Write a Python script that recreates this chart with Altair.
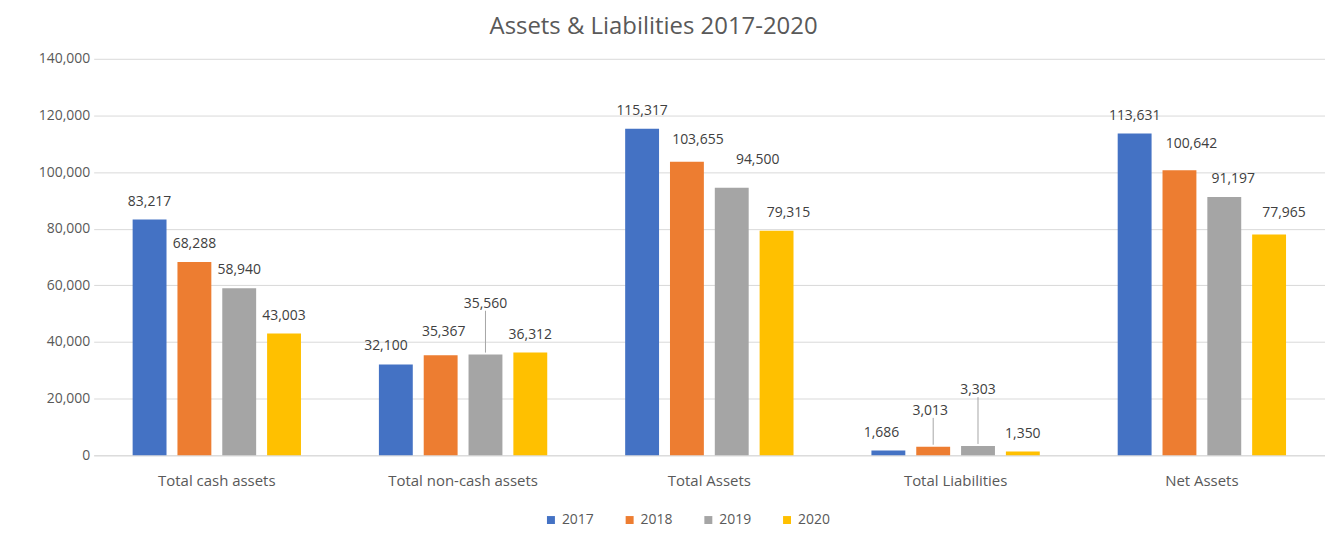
import altair as alt
import pandas as pd

categories = ["Total cash assets", "Total non-cash assets", "Total Assets",
              "Total Liabilities", "Net Assets"]
years = ["2017", "2018", "2019", "2020"]
values_2017 = [83217, 32100, 115317, 1686, 113631]
values_2018 = [68288, 35367, 103655, 3013, 100642]
values_2019 = [58940, 35560, 94500, 3303, 91197]
values_2020 = [43003, 36312, 79315, 1350, 77965]

# data-label nudges as seen in the picture (pixels): extra lift and sideways shift
label_lift_2017 = [0, 0, 0, 0, 0]
label_lift_2018 = [0, 5, 4, 18, 8]
label_lift_2019 = [0, 33, 10, 38, 0]
label_lift_2020 = [0, 0, 0, 0, 4]
label_shift_2017 = [0, -10, 0, -7, 0]
label_shift_2018 = [0, 3, 11, -3, 12]
label_shift_2019 = [0, 0, 26, 0, 9]
label_shift_2020 = [0, 0, 12, 0, 15]

colors = ["#4472C4", "#ED7D31", "#A5A5A5", "#FFC000"]

rows = []
for yr, vals, lifts, shifts in zip(
        years,
        [values_2017, values_2018, values_2019, values_2020],
        [label_lift_2017, label_lift_2018, label_lift_2019, label_lift_2020],
        [label_shift_2017, label_shift_2018, label_shift_2019, label_shift_2020]):
    for c, v, l, s in zip(categories, vals, lifts, shifts):
        rows.append(dict(category=c, year=yr, value=v, lift=l, shift=s))
df = pd.DataFrame(rows)

Y_MAX = 140000
PLOT_H = 398
PLOT_W = 1236
units_per_px = Y_MAX / PLOT_H
df["lead_low"] = df["value"] + 2 * units_per_px
df["lead_high"] = df["value"] + (11 + df["lift"]) * units_per_px
df["label"] = df["value"].map(lambda v: f"{v:,}")

FONT = "Open Sans"

x_enc = alt.X("category:N", sort=categories, title=None,
              scale=alt.Scale(paddingInner=0.272, paddingOuter=0.136),
              axis=alt.Axis(labelAngle=0, labelFontSize=15, labelColor="#595959",
                            labelFont=FONT, ticks=False, domainColor="#D9D9D9",
                            labelPadding=18, grid=False))
xo_enc = alt.XOffset("year:N", sort=years,
                     scale=alt.Scale(paddingInner=0.244, paddingOuter=0.122))
y_axis = alt.Axis(values=list(range(0, Y_MAX + 1, 20000)), format=",d",
                  labelFontSize=14, labelColor="#595959", labelFont=FONT,
                  ticks=False, domain=False, grid=True, gridColor="#D9D9D9",
                  labelPadding=4, minExtent=81, maxExtent=81)
y_scale = alt.Scale(domain=[0, Y_MAX], nice=False)

base = alt.Chart(df)

bars = base.mark_bar().encode(
    x=x_enc, xOffset=xo_enc,
    y=alt.Y("value:Q", title=None, scale=y_scale, axis=y_axis),
    color=alt.Color("year:N", sort=years,
                    scale=alt.Scale(domain=years, range=colors),
                    legend=alt.Legend(title=None, orient="none", direction="horizontal",
                                      legendX=452, legendY=456,
                                      symbolType="square", symbolSize=64,
                                      symbolStrokeWidth=0,
                                      labelFontSize=14, labelColor="#595959",
                                      labelFont=FONT, labelOffset=4,
                                      columnPadding=28)),
)

leaders = base.mark_rule(color="#A6A6A6", strokeWidth=1).encode(
    x=x_enc, xOffset=xo_enc,
    y=alt.Y("lead_low:Q", title=None, scale=y_scale, axis=y_axis),
    y2="lead_high:Q",
).transform_filter("datum.lift >= 15 && abs(datum.shift) < 5")

labels = base.mark_text(
    baseline="middle", fontSize=14, font=FONT, color="#404040",
    dx=alt.ExprRef("datum.shift"), dy=alt.ExprRef("-(18 + datum.lift)"),
).encode(
    x=x_enc, xOffset=xo_enc,
    y=alt.Y("value:Q", title=None, scale=y_scale, axis=y_axis),
    text="label:N",
)

chart = alt.layer(bars, leaders, labels).properties(
    width=PLOT_W, height=PLOT_H,
    padding={"left": 5, "right": 0, "top": 6, "bottom": 0},
    title=alt.TitleParams("Assets & Liabilities 2017-2020", fontSize=24, font=FONT,
                          fontWeight="normal", color="#595959", anchor="middle",
                          dx=-56, offset=13),
).configure_view(stroke=None)

chart.save("out.html", embed_options={"renderer": "svg", "actions": False})
